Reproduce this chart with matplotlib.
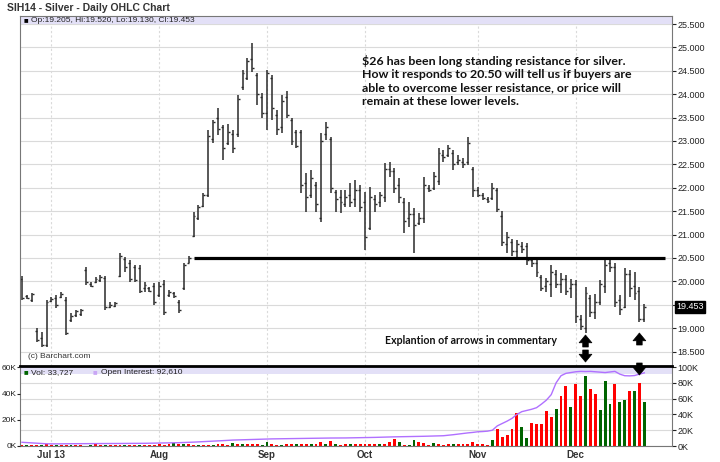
import matplotlib.pyplot as plt
import matplotlib.ticker as mticker
from matplotlib.patches import FancyArrowPatch

plt.rcParams['font.family'] = ['Liberation Sans', 'DejaVu Sans']

# daily OHLC, one entry per trading day (late Jun .. Dec 20, 2013)
highs = [20.12, 19.70, 19.75, 19.00, 18.92, 19.60, 19.67, 19.71, 19.77, 19.67,
         19.33, 19.39, 19.40, 20.31, 19.98, 20.09, 20.13, 20.12, 19.56, 19.56,
         20.60, 20.52, 20.46, 20.35, 20.35, 19.98, 19.88, 19.96, 19.98, 20.03,
         19.82, 19.77, 19.60, 20.39, 20.54, 21.48, 21.63, 21.89, 23.24, 23.45,
         23.70, 23.34, 23.36, 23.24, 23.98, 24.52, 24.77, 25.09, 24.45, 24.03,
         24.52, 24.41, 23.66, 23.98, 24.07, 23.49, 23.24, 23.24, 22.32, 22.38,
         22.12, 23.17, 23.41, 23.09, 21.95, 21.95, 21.95, 22.10, 22.17, 22.06,
         21.91, 22.02, 21.85, 21.91, 22.53, 22.55, 22.42, 22.21, 21.78, 21.70,
         21.57, 21.46, 22.23, 22.06, 22.34, 22.85, 22.80, 22.91, 22.80, 22.70,
         22.64, 23.09, 22.44, 22.02, 21.89, 21.80, 22.10, 22.00, 21.50, 21.05,
         20.90, 20.88, 20.85, 20.82, 20.50, 20.50, 20.14, 20.07, 20.35, 20.24,
         20.18, 20.14, 20.05, 20.03, 19.28, 19.88, 19.71, 19.72, 20.03, 20.46,
         20.46, 20.39, 19.71, 20.29, 20.24, 20.20, 19.88, 19.52]
lows = [19.61, 19.62, 19.56, 18.70, 18.60, 18.60, 19.56, 19.43, 19.64, 18.85,
        19.13, 19.24, 19.25, 19.92, 19.88, 19.96, 19.98, 19.39, 19.43, 19.46,
        20.09, 20.20, 19.98, 19.98, 19.75, 19.77, 19.77, 19.50, 19.67, 19.28,
        19.67, 19.65, 19.33, 19.82, 20.39, 20.95, 21.31, 21.59, 21.80, 22.96,
        23.13, 22.60, 22.91, 22.74, 23.09, 24.09, 24.30, 24.47, 23.77, 23.49,
        23.24, 23.45, 23.13, 23.17, 23.49, 22.91, 22.85, 21.89, 21.48, 21.78,
        21.48, 21.27, 23.02, 21.89, 21.48, 21.46, 21.60, 21.59, 21.59, 21.48,
        20.67, 21.10, 21.48, 21.60, 21.70, 22.23, 21.89, 21.68, 21.03, 21.16,
        20.61, 21.20, 21.25, 21.91, 21.95, 22.06, 22.55, 22.66, 22.38, 22.49,
        22.42, 22.49, 21.80, 21.80, 21.74, 21.68, 21.74, 21.48, 20.75, 20.60,
        20.55, 20.52, 20.60, 20.35, 20.30, 20.10, 19.80, 19.78, 19.67, 19.86,
        19.75, 19.70, 19.65, 19.11, 18.96, 18.90, 19.24, 19.20, 19.50, 19.75,
        20.20, 19.45, 19.28, 19.43, 19.67, 19.60, 19.13, 19.13]
opens = [20.05, 19.68, 19.60, 18.95, 18.80, 18.65, 19.58, 19.65, 19.66, 19.60,
         19.18, 19.28, 19.30, 20.25, 19.95, 19.98, 20.02, 20.08, 19.45, 19.48,
         20.12, 20.48, 20.40, 20.30, 20.28, 19.85, 19.85, 19.90, 19.70, 19.95,
         19.70, 19.75, 19.55, 19.85, 20.40, 20.98, 21.35, 21.62, 21.85, 23.05,
         23.50, 23.30, 22.95, 23.15, 23.15, 24.15, 24.35, 24.75, 24.40, 23.95,
         23.60, 24.35, 23.55, 23.30, 23.95, 23.45, 23.20, 23.20, 22.10, 21.85,
         22.05, 21.35, 23.15, 23.05, 21.90, 21.80, 21.65, 21.85, 21.75, 21.95,
         21.70, 21.15, 21.75, 21.70, 21.80, 22.40, 22.35, 22.05, 21.70, 21.35,
         21.45, 21.25, 21.35, 22.00, 22.00, 22.15, 22.70, 22.70, 22.75, 22.55,
         22.55, 22.55, 22.40, 21.95, 21.85, 21.75, 21.78, 21.95, 21.40, 20.80,
         20.85, 20.65, 20.75, 20.75, 20.45, 20.40, 20.10, 19.90, 19.95, 20.15,
         19.95, 20.05, 19.85, 19.95, 19.20, 19.00, 19.65, 19.35, 19.55, 19.90,
         20.40, 20.30, 19.60, 19.45, 20.15, 19.90, 19.80, 19.205]
closes = [19.65, 19.65, 19.72, 18.75, 18.65, 19.55, 19.62, 19.50, 19.74, 18.90,
          19.25, 19.36, 19.38, 19.98, 19.90, 20.05, 20.10, 19.45, 19.50, 19.54,
          20.55, 20.30, 20.05, 20.02, 19.80, 19.92, 19.80, 19.55, 19.90, 19.35,
          19.78, 19.68, 19.38, 20.35, 20.50, 21.40, 21.60, 21.85, 23.10, 23.40,
          23.25, 22.85, 23.20, 22.85, 23.90, 24.45, 24.70, 24.55, 24.00, 23.60,
          24.45, 23.70, 23.25, 23.85, 23.55, 23.00, 22.90, 22.05, 21.80, 22.20,
          21.65, 23.00, 23.30, 22.00, 21.75, 21.70, 21.80, 21.70, 21.95, 21.60,
          20.95, 21.80, 21.65, 21.85, 22.40, 22.35, 22.00, 21.80, 21.30, 21.45,
          21.20, 21.35, 22.05, 21.95, 22.25, 22.75, 22.65, 22.85, 22.50, 22.60,
          22.50, 22.95, 21.95, 21.85, 21.78, 21.72, 22.00, 21.55, 20.85, 20.95,
          20.65, 20.80, 20.70, 20.45, 20.40, 20.20, 19.85, 20.00, 20.20, 19.95,
          20.05, 19.80, 19.95, 19.25, 19.05, 19.75, 19.35, 19.55, 19.95, 20.35,
          20.30, 19.55, 19.40, 20.15, 19.85, 19.75, 19.20, 19.453]

# volume (thousands) and bar colour per day
volume_k = [1.5, 1.2, 0.8, 1.8, 1.5, 2.2, 1.4, 1.0, 1.6, 1.3,
            1.8, 1.5, 1.2, 0.6, 1.6, 1.9, 1.4, 1.1, 1.7, 0.7,
            1.3, 1.6, 1.2, 1.8, 1.4, 1.1, 1.5, 1.3, 1.9, 1.4,
            2.6, 3.2, 3.0, 2.2, 2.0, 1.8, 1.6, 1.5, 1.7, 1.4,
            2.0, 2.1, 1.8, 4.2, 2.0, 2.4, 2.8, 2.6, 1.9, 1.5,
            4.8, 2.5, 1.2, 1.8, 2.1, 2.2, 2.5, 1.9, 2.4, 2.8,
            2.0, 4.5, 2.3, 6.5, 2.0, 1.6, 2.2, 2.3, 2.5, 2.0,
            2.6, 2.2, 2.8, 2.4, 3.0, 5.2, 8.5, 5.0, 1.8, 1.0,
            8.2, 5.5, 3.8, 1.2, 4.0, 3.0, 1.5, 2.2, 2.6, 2.4,
            2.8, 3.0, 4.6, 2.5, 3.0, 1.5, 7.6, 22.0, 12.0, 13.5,
            21.5, 42.0, 24.0, 10.0, 29.5, 27.8, 27.8, 44.3, 37.1, 46.8,
            63.7, 76.4, 49.0, 78.5, 63.7, 89.0, 71.7, 65.8, 45.6, 82.7,
            53.2, 78.5, 56.0, 58.0, 70.0, 70.0, 80.0, 55.3]
vol_colors = list("rgrrgrrgrrgrrrgrrgrrrgrrgrrr"
                  "rrrgrgrrgrrgrrrgrgrrrg"
                  "grrgrrgrrgrrgrgrrgrr"
                  "rrrgrrrgrggrrrgrrrgrrr"
                  "rrrrgrrrrrggrrrrrgrrgrrgrrgggrggrgrg")
open_interest_k = [4.7, 4.3, 3.9, 3.5, 3.1, 2.8, 2.7, 2.7, 2.8, 2.8,
                   2.9, 2.9, 3.0, 3.0, 3.0, 3.1, 3.1, 3.1, 3.2, 3.2,
                   3.2, 3.3, 3.3, 3.3, 3.4, 3.4, 3.5, 3.5, 3.6, 3.7,
                   3.8, 4.0, 4.2, 4.4, 4.6, 4.9, 5.2, 5.5, 5.8, 6.1,
                   6.4, 6.8, 7.2, 7.5, 7.7, 7.9, 8.1, 8.3, 8.5, 8.7,
                   8.9, 9.0, 9.1, 9.2, 9.3, 9.4, 9.5, 9.6, 9.7, 9.8,
                   9.9, 10.0, 10.0, 10.1, 10.1, 10.2, 10.2, 10.3, 10.3, 10.4,
                   10.5, 10.7, 10.9, 11.1, 11.3, 11.5, 11.6, 11.7, 11.8, 11.9,
                   12.0, 12.1, 12.3, 12.5, 12.6, 12.8, 13.0, 13.6, 14.3, 15.1,
                   15.9, 16.6, 17.2, 18.0, 18.3, 18.8, 20.0, 25.5, 28.5, 31.5,
                   35.0, 40.0, 43.5, 45.0, 46.5, 48.5, 53.0, 58.0, 65.0, 80.0,
                   89.0, 92.0, 93.0, 94.0, 94.5, 94.3, 94.5, 94.0, 93.5, 93.0,
                   93.8, 94.5, 91.0, 89.0, 88.8, 89.2, 91.0, 92.6]

month_idx = [6, 28, 50, 70, 93, 113]
month_labels = ['Jul 13', 'Aug', 'Sep', 'Oct', 'Nov', 'Dec']
resistance = 20.5
last_price = 19.453
arrow_idx = [115, 126]

note = ("$26 has been long standing resistance for silver.\n"
        "How it responds to 20.50 will tell us if buyers are\n"
        "able to overcome lesser resistance, or price will\n"
        "remain at these lower levels.")

W, H = 720, 462
fig = plt.figure(figsize=(W / 100, H / 100), dpi=100)
fig.patch.set_facecolor('white')


def fx(px):
    return px / W


def fy(py):
    return 1 - py / H


def day_px(i):
    return 22 + 4.9 * i


ax = fig.add_axes([fx(20), fy(366), fx(672 - 20), (366 - 16) / H])
axv = fig.add_axes([fx(20), fy(446), fx(672 - 20), (446 - 366) / H])
axl = axv.twinx()

days = list(range(len(highs)))
xmin, xmax = -0.41, 132.65
grid_col = '#dadada'
k_fmt = mticker.FuncFormatter(lambda v, p: f'{v:.0f}K')

# --- price panel ---
ax.vlines(days, lows, highs, color='#2a2a2a', lw=1.1)
ax.hlines(opens, [d - 0.4 for d in days], days, color='#2a2a2a', lw=1)
ax.hlines(closes, days, [d + 0.4 for d in days], color='#2a2a2a', lw=1)
ax.set_xlim(xmin, xmax)
ax.set_ylim(18.192, 25.671)
ax.yaxis.tick_right()
ax.yaxis.set_major_locator(mticker.MultipleLocator(0.5))
ax.yaxis.set_major_formatter(mticker.FuncFormatter(
    lambda v, p: '' if abs(v - 19.5) < 1e-6 else f'{v:.3f}'))
ax.tick_params(axis='y', labelsize=6.5, length=3, pad=1, colors='#222222')
ax.set_xticks(month_idx)
ax.tick_params(axis='x', length=0, labelbottom=False)
ax.grid(axis='y', color=grid_col, lw=0.8)
ax.grid(axis='x', color=grid_col, lw=0.8, ls=(0, (2, 2)))
ax.set_axisbelow(True)
for s in ax.spines.values():
    s.set_color('#777777')
ax.plot([35.2, 131.3], [resistance, resistance], color='black', lw=2.3,
        solid_capstyle='butt')

# legend band on top of price panel
ax.axhspan(25.50, 25.671, color='#e3e0f7', lw=0)
fig.text(fx(24), fy(20.5), '\u25a0', fontsize=5.5, va='center', color='black')
fig.text(fx(31), fy(20.5), 'Op:19.205, Hi:19.520, Lo:19.130, Cl:19.453',
         fontsize=6, va='center', color='#222222')
fig.text(fx(7), fy(8), 'SIH14 - Silver - Daily OHLC Chart', fontsize=7.5,
         fontweight='bold', va='center', color='#333333')

# last price box
ax.text(1.006, last_price, f'{last_price:.3f}', transform=ax.get_yaxis_transform(),
        fontsize=6.5, color='white', va='center', ha='left',
        bbox=dict(boxstyle='square,pad=0.15', fc='black', ec='black'))

fig.text(fx(28), fy(356), '(c) Barchart.com', fontsize=6, va='center',
         color='#333333')
fig.text(fx(362), fy(55), note, fontsize=8.9, family=['Lato', 'DejaVu Sans'],
         fontweight='bold', va='top', linespacing=1.27, color='#111111')
fig.text(fx(385), fy(340), 'Explantion of arrows in commentary', fontsize=7.7,
         family=['Lato', 'DejaVu Sans'], fontweight='bold', va='center',
         color='#111111')

# arrows under the December lows (up) and pointing at the volume (down)
arrow_style = 'simple,head_width=1.15,head_length=0.7,tail_width=0.5'
up_spans = [(347, 335), (345, 333)]
down_spans = [(350, 362), (363, 375)]
for i, span in list(zip(arrow_idx, up_spans)) + list(zip(arrow_idx, down_spans)):
    x = fx(day_px(i))
    fig.add_artist(FancyArrowPatch((x, fy(span[0])), (x, fy(span[1])),
                                   transform=fig.transFigure, arrowstyle=arrow_style,
                                   mutation_scale=8, color='black', lw=0.5,
                                   shrinkA=0, shrinkB=0, zorder=5))

# --- volume panel ---
bar_cols = ['#ff0000' if c == 'r' else '#006400' for c in vol_colors]
axv.bar(days, volume_k, width=0.6, color=bar_cols, lw=0, zorder=2)
axv.plot(days, open_interest_k, color='#b070ff', lw=1, zorder=3)
axv.axhspan(91, 101.3, color='#e3e0f7', lw=0, zorder=1)
axv.set_xlim(xmin, xmax)
axv.set_ylim(0, 101.3)
axv.yaxis.tick_right()
axv.set_yticks([0, 20, 40, 60, 80, 100])
axv.yaxis.set_major_formatter(k_fmt)
axv.tick_params(axis='y', labelsize=6.5, length=3, pad=1, colors='#222222')
axv.set_xticks(month_idx)
axv.set_xticklabels(month_labels, fontsize=7, fontweight='bold', color='#333333')
axv.tick_params(axis='x', length=0, pad=3)
axv.grid(axis='y', color=grid_col, lw=0.8)
axv.grid(axis='x', color=grid_col, lw=0.8, ls=(0, (2, 2)))
axv.set_axisbelow(True)
for s in axv.spines.values():
    s.set_color('#777777')
axv.spines['top'].set_color('black')
axv.spines['top'].set_linewidth(2)

axl.yaxis.tick_left()
axl.set_ylim(0, 61)
axl.set_yticks([0, 20, 40, 60])
axl.yaxis.set_major_formatter(k_fmt)
axl.tick_params(axis='y', labelsize=6, length=2, pad=0.5, colors='#222222')
for s in axl.spines.values():
    s.set_visible(False)

fig.text(fx(24), fy(373), '\u25a0', fontsize=5.5, va='center', color='#006400')
fig.text(fx(31), fy(373), 'Vol: 33,727', fontsize=6, va='center', color='#222222')
fig.text(fx(93), fy(373), '\u25a0', fontsize=5.5, va='center', color='#c9a6f5')
fig.text(fx(101), fy(373), 'Open Interest: 92,610', fontsize=6, va='center',
         color='#222222')

fig.savefig('out.png', dpi=100)
